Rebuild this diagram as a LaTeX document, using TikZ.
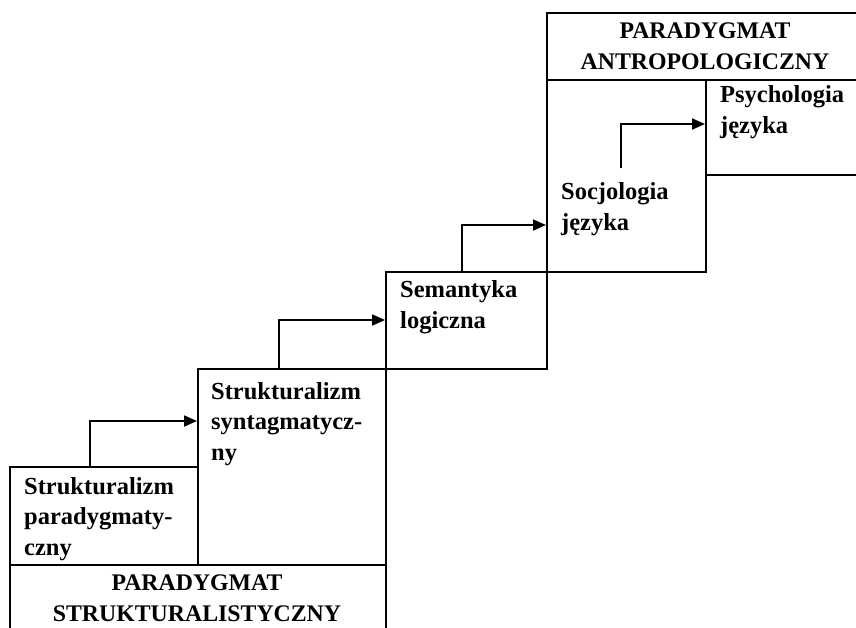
\documentclass[tikz,border=0pt]{standalone}
\usepackage{fontspec}
\setmainfont{Liberation Serif}
\usetikzlibrary{arrows.meta}
\tikzset{
  box/.style={draw, line width=2.2pt, inner sep=0pt, anchor=north west},
  lbl/.style={inner sep=0pt, anchor=base west, align=left, font=\bfseries\fontsize{24.5}{30.5}\selectfont},
  hdr/.style={inner sep=0pt, anchor=base, align=center, font=\bfseries\fontsize{23.8}{31}\selectfont},
  arr/.style={line width=1.8pt, -{Triangle[length=13pt,width=11pt]}}
}
\begin{document}
\begin{tikzpicture}[x=1pt,y=-1pt]
\clip (0,0) rectangle (856,627);
% boxes
\node[box, minimum width=188pt, minimum height=98pt] (b1) at (9,466) {};
\node[box, minimum width=188pt, minimum height=196pt] (b2) at (197,368) {};
\node[box, minimum width=161pt, minimum height=97pt] (b3) at (385,271) {};
\node[box, minimum width=159pt, minimum height=192pt] (b4) at (546,79) {};
\node[box, minimum width=170pt, minimum height=95pt] (b5) at (705,79) {};
\node[box, minimum width=376pt, minimum height=80pt] (hs) at (9,564) {};
\node[box, minimum width=330pt, minimum height=67pt] (ha) at (546,12) {};
% texts (anchor = baseline of last line)
\node[lbl] (t1) at (24,555) {Strukturalizm\\paradygmaty-\\czny};
\node[lbl] (t2) at (211,460) {Strukturalizm\\syntagmatycz-\\ny};
\node[lbl] (t3) at (400,328) {Semantyka\\logiczna};
\node[lbl] (t4) at (561,230) {Socjologia\\języka};
\node[lbl] (t5) at (720,133) {Psychologia\\języka};
\node[hdr] (ths) at (197,621) {PARADYGMAT\\STRUKTURALISTYCZNY};
\node[hdr] (tha) at (705,69) {PARADYGMAT\\ANTROPOLOGICZNY};
% arrows
\coordinate (s1) at (90,466);
\coordinate (s2) at (279,368);
\coordinate (s3) at (462,271);
\coordinate (s4) at (621,168);
\draw[arr] (s1) |- (b2.west |- 0,421);
\draw[arr] (s2) |- (b3.west |- 0,320);
\draw[arr] (s3) |- (b4.west |- 0,225);
\draw[arr] (s4) |- (b5.west |- 0,124);
\end{tikzpicture}
\end{document}
